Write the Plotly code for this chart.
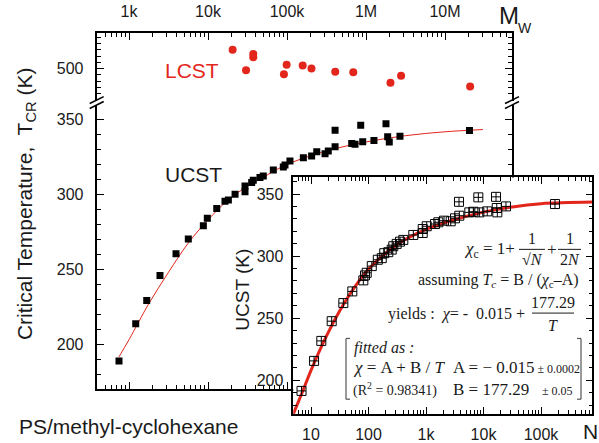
import plotly.graph_objects as go

W, H = 599, 443

# ---------------- data ----------------
lcst_mw = [20.5e3, 30.3e3, 37.4e3, 37.4e3, 91.4e3, 98.9e3, 158e3, 204e3, 408e3, 690e3, 2.04e6, 2.78e6, 20.8e6]
lcst_t = [515.1, 498.7, 511.7, 509.0, 495.5, 503.2, 502.6, 500.2, 497.6, 497.1, 488.7, 494.4, 485.7]

ucst_mw = [747, 1216, 1676, 2466, 3936, 5634, 8730, 9800, 12.9e3, 16.4e3,
           18.1e3, 22e3, 29.4e3, 29.4e3, 35.7e3, 37.4e3, 45.5e3, 50.1e3, 67.1e3, 89.8e3,
           94.3e3, 109e3, 161e3, 205e3, 238e3, 303e3, 333e3, 406e3, 406e3, 659e3,
           726e3, 857e3, 908e3, 1.26e6, 1.79e6, 1.88e6, 1.97e6, 2.69e6, 20.4e6]
ucst_t = [188.7, 213.6, 229.2, 245.8, 260.3, 270.2, 279.1, 284.0, 290.6, 295.5,
          296.3, 300.1, 301.7, 305.6, 307.9, 309.4, 311.2, 312.3, 316.3, 318.3,
          319.6, 322.3, 324.5, 325.6, 328.5, 327.2, 328.9, 331.8, 342.9, 334.0,
          333.4, 346.2, 335.1, 336.0, 347.1, 338.5, 334.9, 338.9, 342.7]

fit_mw = [746, 1000, 1778, 3162, 5623, 10000, 17783, 31623, 56234, 1e5, 316228, 1e6, 3.16e6, 1e7, 3.02e7]
fit_t = [191.5, 203, 227, 248, 267.5, 283, 296, 305.5, 313, 320, 329, 335, 339.2, 341.8, 343.3]

inset_n = [6.84, 11.3, 15.1, 22.9, 36.5, 52.3, 81.3, 86.9, 93.1, 114,
           145, 170, 188, 221, 253, 270, 309, 353, 403, 601,
           877, 877, 1029, 1435, 1638, 2056, 2690, 3193, 3793, 3749,
           5665, 6651, 8128, 8460, 11600, 16500, 17000, 17400, 24600, 175000]
inset_t = [191.4, 215.6, 231.7, 247.6, 262.2, 271.6, 280.5, 284.5, 286.6, 292.0,
           297.1, 298.4, 302.4, 303.2, 305.3, 308.0, 309.9, 311.7, 313.1, 317.1,
           318.7, 321.9, 324.1, 325.9, 327.3, 328.6, 328.1, 330.5, 332.6, 343.8,
           335.3, 335.8, 347.4, 335.3, 336.1, 347.8, 338.8, 335.3, 340.1, 342.0]
edge_n = [942000]
edge_t = [346.0]

inset_fit_n = [4.5, 4.92, 7.08, 10, 17.8, 31.6, 56.2, 100, 178, 316, 1000, 3162, 10000, 31623, 100000, 794000]
inset_fit_t = [167.5, 172.7, 190.5, 208, 234, 256, 274.5, 289.5, 300.5, 309.5, 321.5, 329.5, 335.5, 339.7, 342.3, 343.6]

mw_tickvals = [1e3, 1e4, 1e5, 1e6, 1e7]
mw_ticktext = ["1k", "10k", "100k", "1M", "10M"]
n_tickvals = [10, 100, 1e3, 1e4, 1e5]
n_ticktext = ["10", "100", "1k", "10k", "100k"]
t_low_ticks = [200, 250, 300, 350]
t_high_ticks = [500]
inset_t_ticks = [200, 250, 300, 350]

# ---------------- helpers ----------------
RED = "#e3261c"
INK = "#1a1a1a"
SANS = "Liberation Sans, Arial, sans-serif"
SERIF = "Liberation Serif, Times New Roman, serif"


def px(x):
    return x / W


def py(y):
    return 1 - y / H


def minor_log(lo, hi):
    return [m * 10 ** d for d in range(lo, hi + 1) for m in range(2, 10)]


fig = go.Figure()

# main lower (UCST)
fig.add_trace(go.Scatter(x=fit_mw, y=fit_t, xaxis="x", yaxis="y", mode="lines",
                         line=dict(color=RED, width=1, shape="spline", smoothing=1),
                         hoverinfo="skip"))
fig.add_trace(go.Scatter(x=ucst_mw, y=ucst_t, xaxis="x", yaxis="y", mode="markers",
                         marker=dict(symbol="square", size=7, color="black")))
# main upper (LCST)
fig.add_trace(go.Scatter(x=lcst_mw, y=lcst_t, xaxis="x2", yaxis="y2", mode="markers",
                         marker=dict(symbol="circle", size=8, color=RED)))
# inset
fig.add_trace(go.Scatter(x=inset_fit_n, y=inset_fit_t, xaxis="x3", yaxis="y3", mode="lines",
                         line=dict(color=RED, width=3, shape="spline", smoothing=1),
                         hoverinfo="skip"))
fig.add_trace(go.Scatter(x=inset_n, y=inset_t, xaxis="x3", yaxis="y3", mode="markers",
                         marker=dict(symbol="square-cross-open", size=9, color="black",
                                     line=dict(width=1, color="black"))))
fig.add_trace(go.Scatter(x=edge_n, y=edge_t, xaxis="x3", yaxis="y3", mode="markers",
                         cliponaxis=False,
                         marker=dict(symbol="square-cross-open", size=9, color="black",
                                     line=dict(width=1, color="black"))))

main_x_dom = [px(96.7), px(512)]
tickfont = dict(family=SANS, size=16, color=INK)

common_ax = dict(showgrid=False, zeroline=False, showline=True, linecolor="black",
                 ticks="inside", tickcolor="black")

fig.update_layout(
    width=W, height=H, margin=dict(l=0, r=0, t=0, b=0),
    paper_bgcolor="white", plot_bgcolor="white", showlegend=False,
    xaxis=dict(**common_ax, domain=main_x_dom, anchor="y", type="log",
               range=[2.591, 7.848], linewidth=2, ticklen=7, tickwidth=1.3,
               tickmode="array", tickvals=mw_tickvals, showticklabels=False,
               minor=dict(tickmode="array", tickvals=minor_log(2, 7), ticks="inside",
                          ticklen=4, tickwidth=1, tickcolor="black", showgrid=False)),
    yaxis=dict(**common_ax, domain=[py(391), py(105)], anchor="x",
               range=[169.9, 360], linewidth=2, mirror="ticks", ticklen=7, tickwidth=1.3,
               tickmode="array", tickvals=t_low_ticks, tickfont=tickfont,
               ticklabelstandoff=8,
               minor=dict(dtick=10, tick0=0, ticks="inside", ticklen=4, tickwidth=1,
                          tickcolor="black", showgrid=False)),
    xaxis2=dict(**common_ax, domain=main_x_dom, anchor="y2", side="top", type="log",
                range=[2.591, 7.848], linewidth=2, ticklen=7, tickwidth=1.3,
                tickmode="array", tickvals=mw_tickvals, ticktext=mw_ticktext,
                tickfont=tickfont, ticklabelstandoff=8,
                minor=dict(tickmode="array", tickvals=minor_log(2, 7), ticks="inside",
                           ticklen=4, tickwidth=1, tickcolor="black", showgrid=False)),
    yaxis2=dict(**common_ax, domain=[py(101), py(33.3)], anchor="x2",
                range=[474.6, 528.3], linewidth=2, mirror="ticks", ticklen=7, tickwidth=1.3,
                tickmode="array", tickvals=t_high_ticks, tickfont=tickfont,
                ticklabelstandoff=8,
                minor=dict(dtick=5, tick0=0, ticks="inside", ticklen=4, tickwidth=1,
                           tickcolor="black", showgrid=False)),
    xaxis3=dict(**common_ax, domain=[px(293.3), px(592.3)], anchor="y3", type="log",
                range=[0.692, 5.892], linewidth=1.5, mirror="ticks", ticklen=7, tickwidth=1.2,
                tickmode="array", tickvals=n_tickvals, ticktext=n_ticktext,
                tickfont=tickfont, ticklabelstandoff=5,
                minor=dict(tickmode="array", tickvals=minor_log(0, 5), ticks="inside",
                           ticklen=4, tickwidth=1, tickcolor="black", showgrid=False)),
    yaxis3=dict(**common_ax, domain=[py(416), py(178.3)], anchor="x3",
                range=[172.7, 363.4], linewidth=1.5, mirror="ticks", ticklen=7, tickwidth=1.2,
                tickmode="array", tickvals=inset_t_ticks, tickfont=tickfont,
                ticklabelstandoff=5,
                minor=dict(dtick=10, tick0=0, ticks="inside", ticklen=4, tickwidth=1,
                           tickcolor="black", showgrid=False)),
)

shapes = []
# white background for inset (drawn in inset subplot layer, above the main plot)
shapes.append(dict(type="rect", xref="x3 domain", yref="y3 domain", x0=0, x1=1, y0=0, y1=1,
                   fillcolor="white", line=dict(width=0), layer="below"))


def seg(x0, y0, x1, y1, color="black", width=1.5):
    return dict(type="line", xref="paper", yref="paper", x0=px(x0), y0=py(y0),
                x1=px(x1), y1=py(y1), line=dict(color=color, width=width), layer="above")


# axis-break marks
for bx in (96.7, 512):
    for by in (100.5, 105.5):
        shapes.append(seg(bx - 7, by + 3.5, bx + 7, by - 3.5, width=1.5))

# fraction bars in the inset
shapes.append(seg(519, 250.5, 545, 250.5, color=INK, width=1))
shapes.append(seg(558, 250.5, 581, 250.5, color=INK, width=1))
shapes.append(seg(532, 314.5, 574, 314.5, color=INK, width=1))
# brackets
BR = "#555555"
shapes.append(seg(346, 340, 346, 401, color=BR, width=1.2))
shapes.append(seg(346, 340, 350, 340, color=BR, width=1.2))
shapes.append(seg(346, 401, 350, 401, color=BR, width=1.2))
shapes.append(seg(581, 340, 581, 401, color=BR, width=1.2))
shapes.append(seg(577, 340, 581, 340, color=BR, width=1.2))
shapes.append(seg(577, 401, 581, 401, color=BR, width=1.2))
fig.update_layout(shapes=shapes)


def ann(text, x, y, size, color=INK, family=SANS, xanchor="center", angle=0):
    return dict(text=text, x=px(x), y=py(y), xref="paper", yref="paper",
                xanchor=xanchor, yanchor="middle", showarrow=False, textangle=angle,
                font=dict(family=family, size=size, color=color))


anns = [
    ann("M", 509, 16, 24),
    ann("W", 525, 28, 14),
    ann("N", 590, 433, 21),
    ann("LCST", 192, 71, 21, color=RED),
    ann("UCST", 193, 175, 21),
    ann("Critical Temperature,  T<sub>CR</sub> (K)", 26, 205, 21, angle=-90),
    ann("PS/methyl-cyclohexane", 17, 428, 21, xanchor="left"),
    ann("UCST (K)", 243, 291, 19, angle=-90),
    # inset formulas
    ann("<i>χ</i><sub>c</sub> = 1+", 517, 251, 17, family=SERIF, xanchor="right"),
    ann("1", 532, 240, 16, family=SERIF),
    ann("√<i>N</i>", 532, 261, 16, family=SERIF),
    ann("+", 551.5, 251, 17, family=SERIF),
    ann("1", 569.5, 240, 16, family=SERIF),
    ann("2<i>N</i>", 569.5, 261, 16, family=SERIF),
    ann("assuming <i>T<sub>c</sub></i> = B / (<i>χ</i><sub>c</sub>–A)", 581, 282, 16,
        family=SERIF, xanchor="right"),
    ann("yields :  <i>χ</i>= -  0.015 +", 386, 315, 16, family=SERIF, xanchor="left"),
    ann("177.29", 553, 304, 16, family=SERIF),
    ann("<i>T</i>", 553, 327, 16, family=SERIF),
    ann("<i>fitted as :</i>", 352, 350, 16, family=SERIF, xanchor="left"),
    ann("<i>χ</i> = A + B / <i>T</i>", 351, 369, 17, family=SERIF, xanchor="left"),
    ann("(R<sup>2</sup> = 0.98341)", 351, 391, 14, family=SERIF, xanchor="left"),
    ann("A = − 0.015<span style='font-size:12px'> ± 0.0002</span>", 451, 369, 17,
        family=SERIF, xanchor="left"),
    ann("B = 177.29   <span style='font-size:12px'>± 0.05</span>", 451, 391, 17,
        family=SERIF, xanchor="left"),
]
fig.update_layout(annotations=anns)

fig.write_html("out.html", config={"displayModeBar": False})
